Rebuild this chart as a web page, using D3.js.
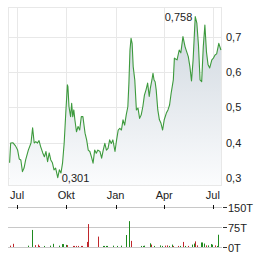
<!DOCTYPE html>
<html>
<head>
<meta charset="utf-8">
<script src="https://cdn.jsdelivr.net/npm/d3@7"></script>
<style>
  body { margin: 0; background: #fff; }
  svg { display: block; font-family: "Liberation Sans", Arial, sans-serif; }
  .lbl { font-size: 11px; fill: #222; }
</style>
</head>
<body>
<svg id="chart" width="264" height="255"></svg>
<script>
// Closing prices
const priceDates = [
  "2023-06-17","2023-06-19","2023-06-23","2023-06-28","2023-07-02","2023-07-05","2023-07-08","2023-07-11",
  "2023-07-14","2023-07-17","2023-07-22","2023-07-27","2023-07-30","2023-08-02","2023-08-05","2023-08-08",
  "2023-08-11","2023-08-14","2023-08-18","2023-08-21","2023-08-24","2023-08-27","2023-08-30","2023-09-02",
  "2023-09-05","2023-09-08","2023-09-11","2023-09-15","2023-09-18","2023-09-21","2023-09-24","2023-09-27",
  "2023-09-30","2023-10-03","2023-10-04","2023-10-06","2023-10-09","2023-10-11","2023-10-13","2023-10-15",
  "2023-10-17","2023-10-20","2023-10-23","2023-10-26","2023-10-29","2023-11-01","2023-11-05","2023-11-08",
  "2023-11-11","2023-11-14","2023-11-17","2023-11-20","2023-11-23","2023-11-26","2023-11-29","2023-12-03",
  "2023-12-06","2023-12-09","2023-12-12","2023-12-15","2023-12-18","2023-12-21","2023-12-24","2023-12-27",
  "2023-12-31","2024-01-03","2024-01-06","2024-01-09","2024-01-12","2024-01-15","2024-01-18","2024-01-21",
  "2024-01-24","2024-01-26","2024-01-28","2024-01-30","2024-02-01","2024-02-03","2024-02-06","2024-02-09",
  "2024-02-12","2024-02-15","2024-02-18","2024-02-21","2024-02-24","2024-02-27","2024-03-01","2024-03-04",
  "2024-03-06","2024-03-09","2024-03-11","2024-03-13","2024-03-15","2024-03-17","2024-03-20","2024-03-23",
  "2024-03-26","2024-03-29","2024-04-01","2024-04-05","2024-04-08","2024-04-11","2024-04-14","2024-04-18",
  "2024-04-20","2024-04-25","2024-04-29","2024-05-02","2024-05-06","2024-05-10","2024-05-16","2024-05-19",
  "2024-05-22","2024-05-25","2024-05-27","2024-05-29","2024-06-01","2024-06-04","2024-06-07","2024-06-10",
  "2024-06-13","2024-06-16","2024-06-19","2024-06-22","2024-06-25","2024-06-29","2024-07-02","2024-07-05",
  "2024-07-08","2024-07-12","2024-07-16"
];
const priceValues = [
  0.343,0.399,0.400,0.391,0.379,0.354,0.351,0.318,
  0.328,0.351,0.379,0.399,0.442,0.399,0.403,0.399,
  0.406,0.389,0.371,0.360,0.375,0.346,0.371,0.351,
  0.343,0.323,0.328,0.301,0.323,0.314,0.343,0.399,
  0.484,0.564,0.559,0.502,0.474,0.512,0.474,0.493,
  0.465,0.431,0.446,0.436,0.474,0.474,0.427,0.408,
  0.379,0.375,0.360,0.342,0.379,0.370,0.379,0.375,
  0.356,0.379,0.398,0.379,0.384,0.408,0.398,0.408,
  0.375,0.408,0.436,0.441,0.436,0.465,0.450,0.479,
  0.502,0.569,0.663,0.696,0.682,0.616,0.578,0.493,
  0.498,0.469,0.479,0.502,0.535,0.550,0.569,0.531,
  0.554,0.578,0.597,0.578,0.573,0.550,0.493,0.465,
  0.455,0.436,0.465,0.484,0.493,0.507,0.541,0.578,
  0.640,0.635,0.663,0.655,0.701,0.672,0.644,0.616,
  0.575,0.635,0.697,0.758,0.739,0.677,0.578,0.573,
  0.672,0.734,0.657,0.621,0.612,0.635,0.640,0.649,
  0.652,0.682,0.663
];

// Volume in thousands, 1 = up day (green), 0 = down day (red)
const volumeDates = [
  "2023-06-17","2023-06-24","2023-07-22","2023-07-28","2023-08-04","2023-08-09","2023-08-11","2023-08-21",
  "2023-08-31","2023-09-06","2023-09-18","2023-09-23","2023-09-25","2023-09-30","2023-10-02","2023-10-13",
  "2023-10-16","2023-10-19","2023-10-23","2023-10-28","2023-10-31","2023-11-08","2023-11-10","2023-11-29",
  "2023-12-08","2023-12-10","2023-12-14","2023-12-16","2023-12-27","2024-01-03","2024-01-12","2024-01-20",
  "2024-01-27","2024-01-30","2024-02-18","2024-02-21","2024-02-24","2024-03-05","2024-03-08","2024-03-12",
  "2024-03-24","2024-03-28","2024-04-02","2024-04-06","2024-04-10","2024-04-16","2024-04-18","2024-04-26",
  "2024-05-01","2024-05-07","2024-05-10","2024-05-16","2024-05-22","2024-05-27","2024-05-29","2024-06-02",
  "2024-06-08","2024-06-11","2024-06-15","2024-06-19","2024-06-22","2024-06-27","2024-06-30","2024-07-04",
  "2024-07-08","2024-07-11"
];
const volumeValues = [
  5,12,5,64,7,9,4,4,
  5,12,5,11,11,8,7,4,
  4,4,4,4,4,19,86,39,
  4,4,4,4,5,4,5,45,
  97,23,4,4,5,14,9,4,
  6,4,5,6,4,9,4,4,
  4,19,4,4,9,13,21,6,
  17,17,13,6,6,11,9,6,
  4,46
];
const volumeUp = [
  0,0,1,1,0,0,0,1,
  1,1,1,1,1,1,0,0,
  0,0,0,0,0,0,0,0,
  1,1,1,1,1,1,1,1,
  1,0,1,1,1,1,0,1,
  1,1,0,0,1,1,0,0,
  1,0,1,0,1,1,0,0,
  1,1,1,0,1,1,1,0,
  1,1
];

const xTickDates = ["2023-07-01","2023-10-01","2024-01-01","2024-04-01","2024-07-01"];
const xTickLabels = ["Jul","Okt","Jan","Apr","Jul"];
const yTicks = [0.3, 0.4, 0.5, 0.6, 0.7];
const volTicks = [0, 75, 150];
const volTickLabels = ["0T", "75T", "150T"];
const maxLabel = "0,758";
const minLabel = "0,301";

const parse = d3.timeParse("%Y-%m-%d");
const prices = priceDates.map((d, i) => ({ date: parse(d), value: priceValues[i] }));
const volumes = volumeDates.map((d, i) => ({ date: parse(d), value: volumeValues[i], up: volumeUp[i] }));

const left = 8, right = 222;
const svg = d3.select("#chart");

const x = d3.scaleTime()
  .domain([parse("2023-06-14"), parse("2024-07-18")])
  .range([left, right]);
const y = d3.scaleLinear().domain([0.28, 0.785]).range([185, 7]);
const yVol = d3.scaleLinear().domain([0, 150]).range([247, 207]);

// gradient for the area
const grad = svg.append("defs").append("linearGradient")
  .attr("id", "areaGrad").attr("gradientUnits", "userSpaceOnUse")
  .attr("x1", 0).attr("x2", 0).attr("y1", 20).attr("y2", 185);
grad.append("stop").attr("offset", 0).attr("stop-color", "#cfd7df");
grad.append("stop").attr("offset", 1).attr("stop-color", "#fbfcfd");

// grid
const grid = svg.append("g").attr("stroke", "#e8e8e8").attr("stroke-width", 1);
yTicks.forEach(t => {
  grid.append("line").attr("x1", left).attr("x2", right)
    .attr("y1", Math.round(y(t)) + 0.5).attr("y2", Math.round(y(t)) + 0.5);
});
xTickDates.forEach(d => {
  const xx = Math.round(x(parse(d))) + 0.5;
  grid.append("line").attr("x1", xx).attr("x2", xx).attr("y1", 7).attr("y2", 185);
});
svg.append("rect").attr("x", left + 0.5).attr("y", 7.5)
  .attr("width", right - left - 1).attr("height", 178)
  .attr("fill", "none").attr("stroke", "#e8e8e8");

// area and line
svg.append("path").datum(prices)
  .attr("fill", "url(#areaGrad)")
  .attr("d", d3.area().x(d => x(d.date)).y0(185).y1(d => y(d.value)));
svg.append("path").datum(prices)
  .attr("fill", "none").attr("stroke", "#3d9a3d").attr("stroke-width", 1.1)
  .attr("stroke-linejoin", "round")
  .attr("d", d3.line().x(d => x(d.date)).y(d => y(d.value)));

// max / min labels
const maxP = prices[d3.maxIndex(prices, d => d.value)];
const minP = prices[d3.minIndex(prices, d => d.value)];
svg.append("text").attr("class", "lbl")
  .attr("x", x(maxP.date) - 3).attr("y", y(maxP.value) + 4)
  .attr("text-anchor", "end").text(maxLabel);
svg.append("text").attr("class", "lbl")
  .attr("x", x(minP.date) + 4).attr("y", y(minP.value) + 4)
  .text(minLabel);

// y labels (price)
yTicks.forEach(t => {
  svg.append("text").attr("class", "lbl")
    .attr("x", 226).attr("y", y(t) + 4)
    .text(d3.format(".1f")(t).replace(".", ","));
});

// x labels
xTickDates.forEach((d, i) => {
  svg.append("text").attr("class", "lbl")
    .attr("x", x(parse(d))).attr("y", 199)
    .attr("text-anchor", "middle").text(xTickLabels[i]);
});

// volume panel
volTicks.forEach((t, i) => {
  const yy = Math.round(yVol(t)) + 0.5;
  svg.append("line").attr("x1", left).attr("x2", right).attr("y1", yy).attr("y2", yy)
    .attr("stroke", "#c8c8c8");
  svg.append("line").attr("x1", 223).attr("x2", 227).attr("y1", yy).attr("y2", yy)
    .attr("stroke", "#333");
  svg.append("text").attr("class", "lbl")
    .attr("x", 228).attr("y", yy + 4).text(volTickLabels[i]);
});
xTickDates.forEach(d => {
  const xx = Math.round(x(parse(d))) + 0.5;
  svg.append("line").attr("x1", xx).attr("x2", xx)
    .attr("y1", yVol(150) - 2).attr("y2", yVol(150) + 2).attr("stroke", "#111");
});
svg.append("g").selectAll("rect").data(volumes).join("rect")
  .attr("x", d => Math.round(x(d.date)))
  .attr("width", 1)
  .attr("y", d => yVol(d.value))
  .attr("height", d => yVol(0) - yVol(d.value))
  .attr("fill", d => d.up ? "#1f8a1f" : "#c0262b");
</script>
</body>
</html>
